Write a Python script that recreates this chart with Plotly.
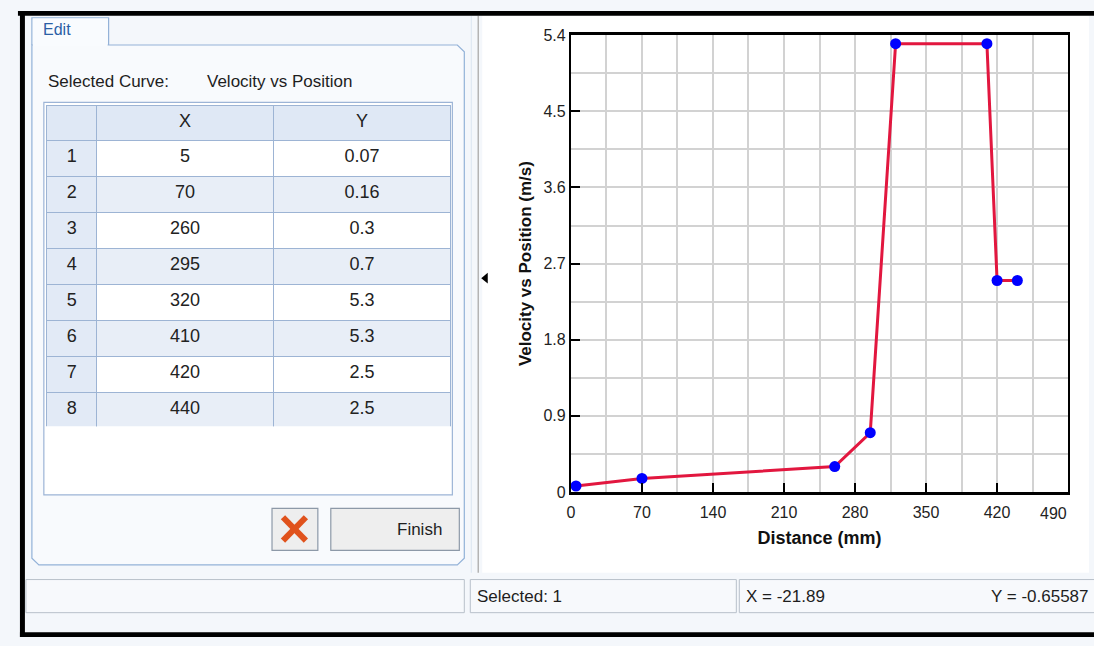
import plotly.graph_objects as go

# ---------------- data ----------------
row_ids = ["1", "2", "3", "4", "5", "6", "7", "8"]
distance_mm = [5, 70, 260, 295, 320, 410, 420, 440]
velocity_ms = [0.07, 0.16, 0.3, 0.7, 5.3, 5.3, 2.5, 2.5]

x_tick_vals = [0, 70, 140, 210, 280, 350, 420, 490]
y_tick_vals = [0, 0.9, 1.8, 2.7, 3.6, 4.5, 5.4]
y_tick_text = ["0", "0.9", "1.8", "2.7", "3.6", "4.5", "5.4"]

curve_name = "Velocity vs Position"
status_selected = "Selected: 1"
status_x = "X = -21.89"
status_y = "Y = -0.65587"

# ---------------- helpers ----------------
W, H = 1094, 646
FONT = "Liberation Sans, Arial, sans-serif"


def X(p):
    return p / W


def Y(p):
    return 1 - p / H


shapes = []


def rect(x0, y0, x1, y1, fill=None, line=None, lw=1, layer="below"):
    shapes.append(dict(type="rect", xref="paper", yref="paper",
                       x0=X(x0), x1=X(x1), y0=Y(y1), y1=Y(y0),
                       fillcolor=fill if fill else "rgba(0,0,0,0)",
                       line=dict(color=line if line else "rgba(0,0,0,0)", width=lw if line else 0),
                       layer=layer))


def seg(x0, y0, x1, y1, color, lw=1, layer="below"):
    shapes.append(dict(type="line", xref="paper", yref="paper",
                       x0=X(x0), x1=X(x1), y0=Y(y0), y1=Y(y1),
                       line=dict(color=color, width=lw), layer=layer))


def path(pts, fill=None, line=None, lw=1, layer="below", close=True):
    d = "M " + " L ".join(f"{X(a):.5f},{Y(b):.5f}" for a, b in pts)
    if close:
        d += " Z"
    shapes.append(dict(type="path", xref="paper", yref="paper", path=d,
                       fillcolor=fill if fill else "rgba(0,0,0,0)",
                       line=dict(color=line if line else "rgba(0,0,0,0)", width=lw if line else 0),
                       layer=layer))


# right white chart panel
rect(480, 8, 1089, 580, fill="white")

# left edit panel (tab + body)
PANEL = "#93b2d8"
path([(28, 38), (28, 10), (105, 10), (105, 38)], fill="#f9fbfe", line=PANEL, lw=1.2, close=False)
path([(28, 38), (455, 38), (462, 45), (462, 565), (455, 572), (35, 572), (28, 565)],
     fill="#f8fafd", line=PANEL, lw=1.2)
rect(29, 11, 104, 39, fill="#f9fbfe")

# table frame
rect(40, 97, 450, 500, fill="white", line="#9cb4d6", lw=1.2)

# splitter
seg(469, 8, 469, 580, "#dbe5f1", 1)
seg(476, 8, 476, 580, "#b4b4b4", 1.5)
path([(479, 277.5), (485.5, 272), (485.5, 283)], fill="black")

# buttons
rect(269, 514, 315, 557, fill="#eeeeee", line="#8d99a8", lw=1.2)
rect(328, 514, 457, 557, fill="#eeeeee", line="#8d99a8", lw=1.2)
seg(280, 523, 303, 547, "#e0521c", 6, layer="above")
seg(303, 523, 280, 547, "#e0521c", 6, layer="above")

# status bar
rect(22, 587, 462, 621, fill="#f7f9fc", line="#b8c0ca", lw=1)
rect(468, 587, 735, 621, fill="#f7f9fc", line="#b8c0ca", lw=1)
rect(738, 587, 1100, 621, fill="#f7f9fc", line="#b8c0ca", lw=1)

# black screenshot border
rect(14, 3, 1094, 8, fill="black", layer="above")
rect(16, 3, 21, 646, fill="black", layer="above")
rect(16, 641, 1094, 646, fill="black", layer="above")

# ---------------- annotations ----------------
annotations = []


def text(x, y, s, size=17, color="#1e1e1e", anchor="left", bold=False):
    annotations.append(dict(xref="paper", yref="paper", x=X(x), y=Y(y), text=f"<b>{s}</b>" if bold else s,
                            showarrow=False, xanchor=anchor, yanchor="middle",
                            font=dict(family=FONT, size=size, color=color)))


text(37, 22, "Edit", size=16, color="#2b5fa6")
text(42, 75, "Selected Curve:", size=17)
text(202, 75, curve_name, size=17)
text(392.5, 536, "Finish", size=17)
text(473, 604, status_selected, size=17)
text(743, 604, status_x, size=17)
text(1091, 604, status_y, size=17, anchor="right")
text(1053, 519, str(x_tick_vals[-1]), size=16, color="#222", anchor="center")

# ---------------- traces ----------------
fig = go.Figure()

n = len(row_ids)
alt = ["white" if i % 2 == 0 else "#e8eef7" for i in range(n)]
fig.add_trace(go.Table(
    domain=dict(x=[X(43), X(449)], y=[Y(430), Y(100)]),
    columnwidth=[50, 177, 178],
    header=dict(values=["", "X", "Y"], height=35, fill_color="#dfe8f5",
                line=dict(color="#9db4d4", width=1), align="center",
                font=dict(family=FONT, size=18, color="#222")),
    cells=dict(values=[row_ids, [str(v) for v in distance_mm], [str(v) for v in velocity_ms]],
               height=36, fill_color=[["#e2eaf6"] * n, alt, alt],
               line=dict(color="#9db4d4", width=1), align="center",
               font=dict(family=FONT, size=18, color="#222")),
))

fig.add_trace(go.Scatter(
    x=distance_mm, y=velocity_ms, mode="lines+markers",
    line=dict(color="#e2173f", width=3),
    marker=dict(color="#0000ff", size=11),
    cliponaxis=False, showlegend=False,
))

GRID = "#d2d2d2"
fig.update_layout(
    width=W, height=H, autosize=False, margin=dict(l=0, r=0, t=0, b=0),
    paper_bgcolor="#f4f7fb", plot_bgcolor="white",
    showlegend=False, shapes=shapes, annotations=annotations,
    xaxis=dict(domain=[X(569), X(1068)], range=[0, 490],
               tickmode="array", tickvals=x_tick_vals,
               ticktext=[str(v) for v in x_tick_vals[:-1]] + [""],
               ticks="inside", ticklen=9, tickwidth=2, tickcolor="black",
               ticklabelstandoff=4,
               showline=True, linecolor="black", linewidth=2.5, mirror=True,
               showgrid=True, gridcolor=GRID, gridwidth=2, zeroline=False,
               minor=dict(tickmode="linear", tick0=0, dtick=35, showgrid=True,
                          gridcolor=GRID, gridwidth=2, ticks=""),
               tickfont=dict(family=FONT, size=16, color="#222"),
               title=dict(text="<b>Distance (mm)</b>", standoff=12,
                          font=dict(family=FONT, size=18, color="#111"))),
    yaxis=dict(domain=[Y(497), Y(28)], range=[0, 5.4],
               tickmode="array", tickvals=y_tick_vals, ticktext=y_tick_text,
               ticks="inside", ticklen=9, tickwidth=2, tickcolor="black",
               showline=True, linecolor="black", linewidth=2, mirror=True,
               showgrid=True, gridcolor=GRID, gridwidth=2, zeroline=False,
               minor=dict(tickmode="linear", tick0=0, dtick=0.45, showgrid=True,
                          gridcolor=GRID, gridwidth=2, ticks=""),
               tickfont=dict(family=FONT, size=16, color="#222"),
               title=dict(text="<b>Velocity vs Position (m/s)</b>", standoff=8,
                          font=dict(family=FONT, size=17, color="#111"))),
)

fig.write_html("out.html",
               config={"responsive": False, "displayModeBar": False},
               post_script="document.body.style.margin='0';document.body.style.overflow='hidden';")
